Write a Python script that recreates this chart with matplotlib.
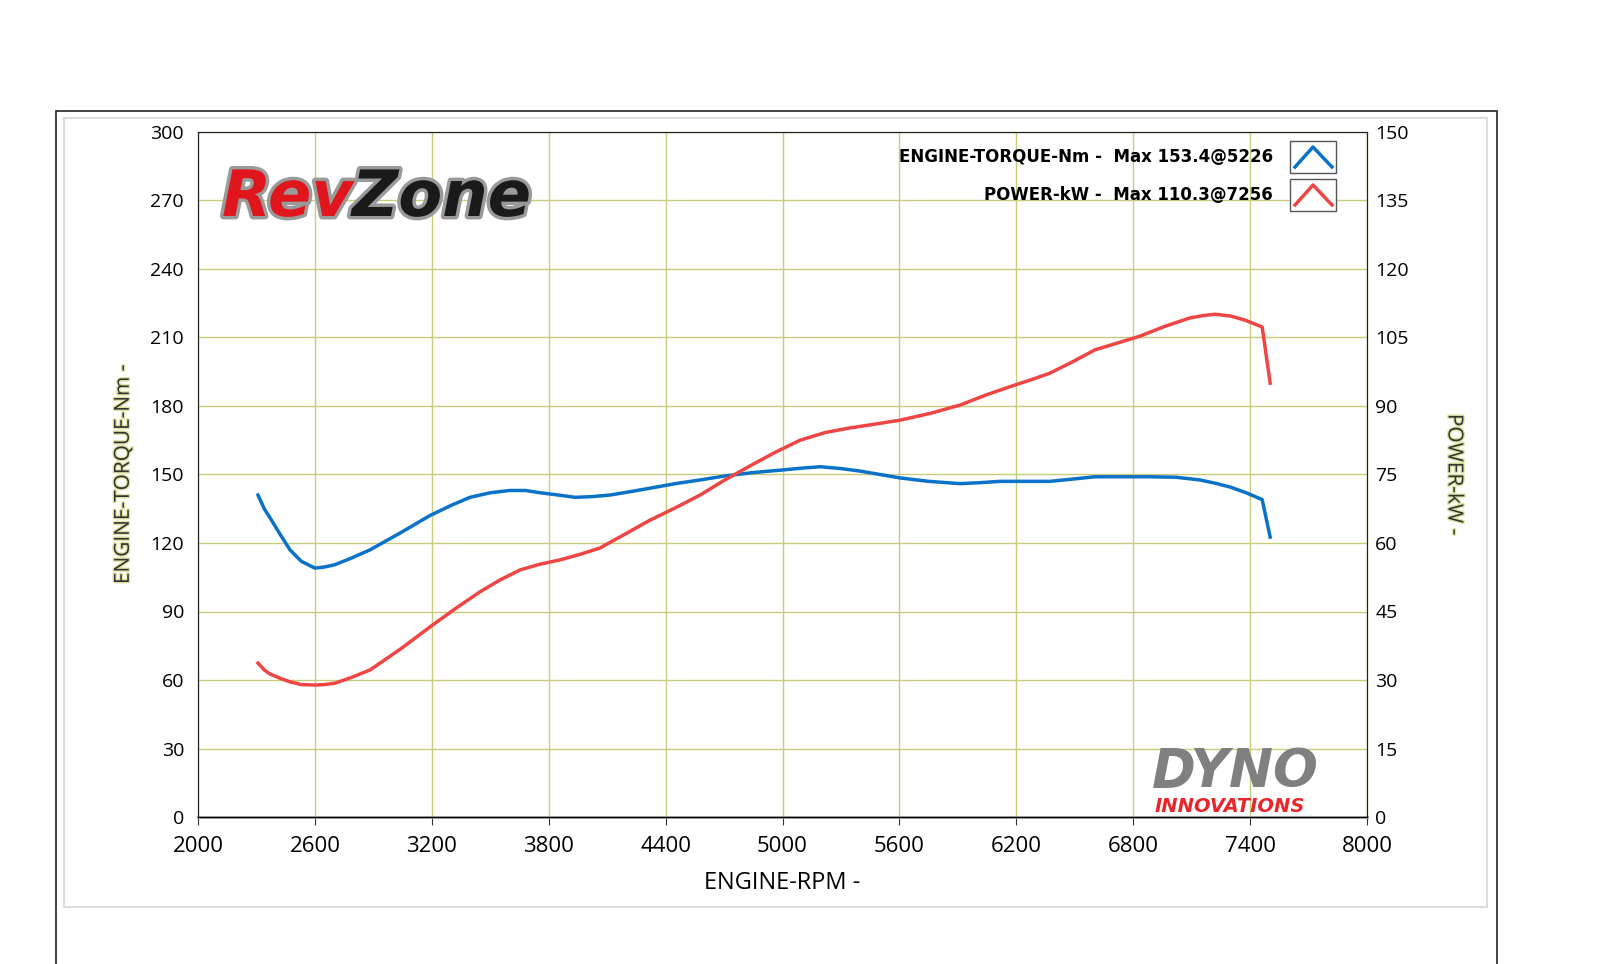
import matplotlib
matplotlib.use("Agg")
import matplotlib.pyplot as plt
from matplotlib.patches import Rectangle
from matplotlib.lines import Line2D
import matplotlib.patheffects as pe

plt.rcParams['font.family'] = ['Open Sans', 'DejaVu Sans']

rpm_t = [2308, 2340, 2370, 2420, 2472, 2530, 2600, 2650, 2703, 2790, 2883, 3040, 3190, 3300, 3396, 3500, 3600, 3680, 3756, 3850, 3935, 4020, 4115, 4220, 4320, 4450, 4577, 4700, 4834, 4920, 5003, 5100, 5193, 5300, 5398, 5500, 5603, 5750, 5911, 6010, 6117, 6250, 6373, 6490, 6604, 6750, 6886, 7020, 7143, 7220, 7298, 7380, 7462, 7503]
torque = [141, 135, 131, 124, 117, 112, 109, 109.5, 110.5, 113.5, 117, 124.5, 132, 136.5, 140, 142, 143, 143, 142, 141, 140, 140.3, 141, 142.5, 144, 146, 147.6, 149.3, 150.7, 151.4, 152, 152.8, 153.4, 152.6, 151.5, 150, 148.5, 147, 146, 146.4, 147, 147, 147, 148, 149, 149, 149, 148.8, 147.6, 146.2, 144.5, 142, 139, 122.6]
rpm_p = [2308, 2340, 2370, 2420, 2472, 2530, 2600, 2650, 2703, 2790, 2883, 3040, 3190, 3320, 3447, 3550, 3653, 3750, 3858, 3960, 4063, 4190, 4320, 4450, 4577, 4700, 4834, 4960, 5090, 5220, 5347, 5470, 5603, 5760, 5911, 6050, 6193, 6280, 6373, 6490, 6604, 6720, 6835, 6960, 7092, 7160, 7220, 7300, 7374, 7462, 7503]
power = [33.7, 32.2, 31.3, 30.4, 29.6, 29.0, 28.9, 29.0, 29.3, 30.6, 32.2, 36.8, 41.6, 45.6, 49.3, 51.9, 54.1, 55.3, 56.3, 57.5, 58.9, 61.9, 65.0, 67.7, 70.5, 73.7, 76.9, 79.8, 82.5, 84.2, 85.2, 86.0, 86.9, 88.4, 90.2, 92.5, 94.6, 95.8, 97.2, 99.7, 102.3, 103.8, 105.3, 107.4, 109.3, 109.8, 110.1, 109.7, 108.8, 107.3, 95.0]
xticks = [2000, 2600, 3200, 3800, 4400, 5000, 5600, 6200, 6800, 7400, 8000]
yl_ticks = [0, 30, 60, 90, 120, 150, 180, 210, 240, 270, 300]
yr_ticks = [0, 15, 30, 45, 60, 75, 90, 105, 120, 135, 150]
legend_labels = ["ENGINE-TORQUE-Nm -  Max 153.4@5226", "POWER-kW -  Max 110.3@7256"]

W, H = 1600, 964
fig = plt.figure(figsize=(16, 9.64), dpi=100)
fig.patches.append(Rectangle((56/W, -0.01), (1497-56)/W, 1 - 111/H + 0.01, transform=fig.transFigure,
                             fill=False, edgecolor='#222222', lw=1.2))
fig.patches.append(Rectangle((64/W, 1-907/H), (1487-64)/W, (907-118)/H, transform=fig.transFigure,
                             fill=False, edgecolor='#dddddd', lw=1.5))

ax = fig.add_axes([198/W, 1-817/H, (1367-198)/W, (817-132)/H])
ax2 = ax.twinx()
grid_c = '#c8cc7a'
ax.set_xlim(2000, 8000); ax.set_ylim(0, 300); ax2.set_ylim(0, 150)
ax.set_xticks(xticks); ax.set_yticks(yl_ticks); ax2.set_yticks(yr_ticks)
ax.set_xticklabels([str(v) for v in xticks], fontsize=16)
ax.set_yticklabels([str(v) for v in yl_ticks], fontsize=14)
ax2.set_yticklabels([str(v) for v in yr_ticks], fontsize=14)
ax.grid(True, color=grid_c, lw=1)
ax.tick_params(axis='y', length=0, pad=10)
ax2.tick_params(axis='y', length=0, pad=6)
ax.tick_params(axis='x', length=6, color='#333333', pad=8)
for s in ['top', 'left', 'right']:
    ax.spines[s].set_color('#222222'); ax2.spines[s].set_color('#222222')
ax.spines['bottom'].set_color('#999999'); ax.spines['bottom'].set_linewidth(2)
ax.set_xlabel('ENGINE-RPM -', fontsize=17, labelpad=10)
ax.set_ylabel('ENGINE-TORQUE-Nm -', fontsize=15, color='#333333', labelpad=12,
              path_effects=[pe.withStroke(linewidth=2, foreground='#dde3a0')])
ax2.set_ylabel('POWER-kW -', fontsize=15, rotation=270, labelpad=40, color='#333333',
               path_effects=[pe.withStroke(linewidth=2, foreground='#dde3a0')])

ax.plot(rpm_t, torque, color='#0a72c8', lw=2.5, zorder=5)
ax2.plot(rpm_p, power, color='#f04545', lw=2.5, zorder=5)

# legend
for i, (lab, col) in enumerate(zip(legend_labels, ['#0a72c8', '#f04545'])):
    yc = 157 + 38 * i
    fig.text(1273/W, 1-yc/H, lab, ha='right', va='center', fontsize=12, fontweight='bold',
             family=['DejaVu Sans'])
    fig.patches.append(Rectangle((1290/W, 1-(yc+16)/H), 46/W, 32/H, transform=fig.transFigure,
                                 facecolor='white', edgecolor='#555555', lw=1, zorder=10))
    fig.lines.append(Line2D([1295/W, 1313/W, 1332/W], [1-(yc+10)/H, 1-(yc-10)/H, 1-(yc+10)/H],
                            transform=fig.transFigure, color=col, lw=2.5, zorder=11))

# logos
fig.text(222/W, 1-198/H, 'Rev', fontsize=46, fontweight='heavy', style='italic', color='#e0161c',
         va='center', family=['DejaVu Sans'],
         path_effects=[pe.withStroke(linewidth=5, foreground='#9a9a9a')], zorder=20)
fig.text(352/W, 1-198/H, 'Zone', fontsize=46, fontweight='heavy', style='italic', color='#1a1a1a',
         va='center', family=['DejaVu Sans'],
         path_effects=[pe.withStroke(linewidth=5, foreground='#9a9a9a')], zorder=20)
fig.text(1235/W, 1-772/H, 'DYNO', fontsize=38, fontweight='heavy', style='italic', color='#808080',
         ha='center', va='center', family=['DejaVu Sans'], zorder=20)
fig.text(1230/W, 1-806/H, 'INNOVATIONS', fontsize=14, fontweight='heavy', style='italic', color='#e8262c',
         ha='center', va='center', family=['DejaVu Sans'], zorder=20)

fig.savefig('out.png', dpi=100)
